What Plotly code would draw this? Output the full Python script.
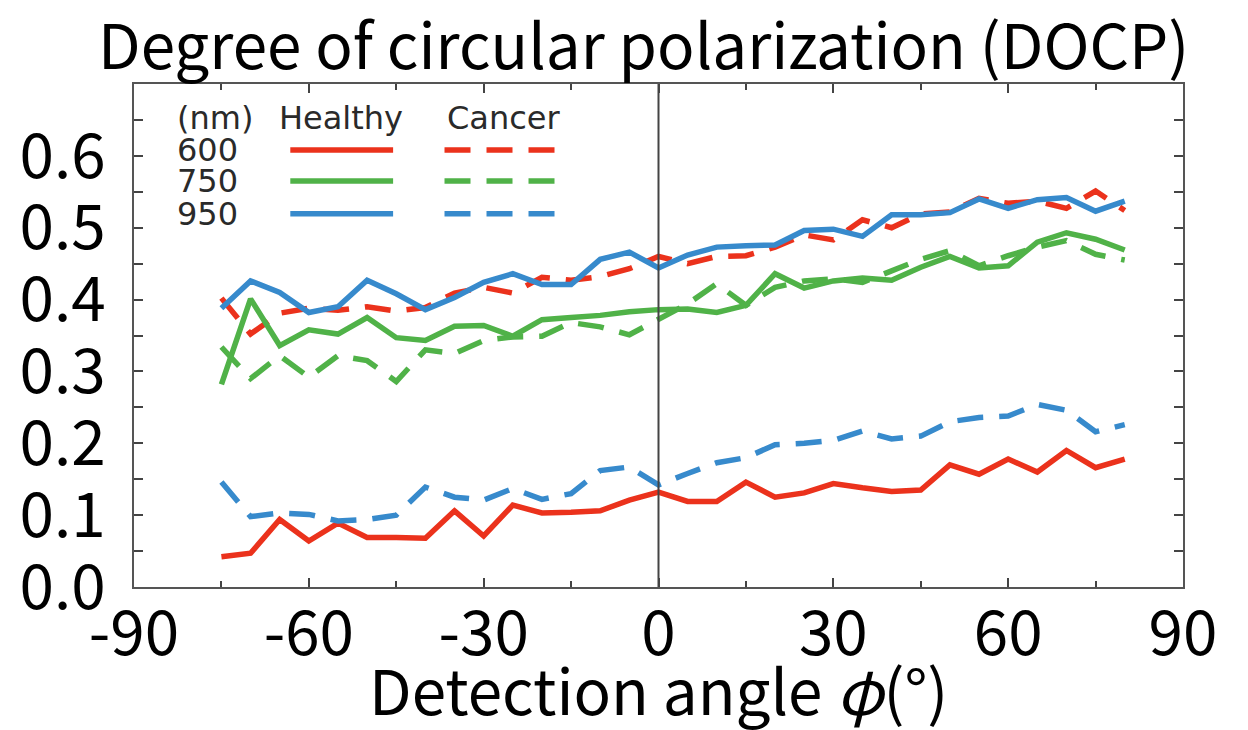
import plotly.graph_objects as go

angles = list(range(-75, 85, 5))

healthy_600 = [0.042, 0.047, 0.094, 0.064, 0.089, 0.069, 0.069, 0.068, 0.106, 0.071, 0.114,
               0.103, 0.104, 0.106, 0.121, 0.132, 0.119, 0.119, 0.146, 0.125, 0.131, 0.144,
               0.138, 0.133, 0.135, 0.170, 0.157, 0.178, 0.160, 0.190, 0.166, 0.178]
cancer_600 = [0.402, 0.352, 0.381, 0.388, 0.385, 0.390, 0.384, 0.389, 0.409, 0.417, 0.409,
              0.431, 0.427, 0.432, 0.443, 0.460, 0.450, 0.460, 0.461, 0.473, 0.490, 0.483,
              0.511, 0.500, 0.519, 0.522, 0.541, 0.534, 0.537, 0.527, 0.551, 0.524]
healthy_750 = [0.282, 0.401, 0.336, 0.358, 0.352, 0.375, 0.347, 0.343, 0.363, 0.364, 0.349,
               0.372, 0.375, 0.378, 0.383, 0.386, 0.387, 0.382, 0.392, 0.436, 0.416, 0.426,
               0.430, 0.427, 0.445, 0.460, 0.444, 0.447, 0.480, 0.493, 0.484, 0.469]
cancer_750 = [0.334, 0.290, 0.322, 0.292, 0.322, 0.315, 0.286, 0.330, 0.325, 0.343, 0.348,
              0.349, 0.368, 0.362, 0.351, 0.373, 0.394, 0.422, 0.392, 0.417, 0.426, 0.429,
              0.424, 0.440, 0.456, 0.468, 0.447, 0.461, 0.473, 0.482, 0.463, 0.455]
healthy_950 = [0.388, 0.426, 0.410, 0.382, 0.390, 0.427, 0.408, 0.386, 0.403, 0.424, 0.436,
               0.421, 0.421, 0.456, 0.466, 0.444, 0.462, 0.473, 0.475, 0.476, 0.496, 0.498,
               0.488, 0.518, 0.518, 0.521, 0.540, 0.527, 0.539, 0.542, 0.523, 0.537]
cancer_950 = [0.146, 0.098, 0.103, 0.101, 0.092, 0.094, 0.100, 0.139, 0.125, 0.121, 0.137,
              0.122, 0.130, 0.162, 0.167, 0.142, 0.158, 0.173, 0.180, 0.198, 0.200, 0.204,
              0.217, 0.206, 0.210, 0.230, 0.236, 0.238, 0.254, 0.246, 0.216, 0.226]

wavelengths = ["600", "750", "950"]
colors = ["rgb(235,50,28)", "rgb(80,178,72)", "rgb(55,138,204)"]
healthy = [healthy_600, healthy_750, healthy_950]
cancer = [cancer_600, cancer_750, cancer_950]

x_ticks = [-90, -60, -30, 0, 30, 60, 90]
x_labels = ["-90", "-60", "-30", "0", "30", "60", "90"]
y_ticks = [0.0, 0.1, 0.2, 0.3, 0.4, 0.5, 0.6]
y_labels = ["0.0", "0.1", "0.2", "0.3", "0.4", "0.5", "0.6"]

DASH = "26px,16px"
BIG = "Noto Sans CJK JP"
LW = 5.5

fig = go.Figure()
for wl, col, h, c in zip(wavelengths, colors, healthy, cancer):
    fig.add_trace(go.Scatter(x=angles, y=h, mode="lines", name=f"{wl} Healthy",
                             line=dict(color=col, width=LW), showlegend=False))
    fig.add_trace(go.Scatter(x=angles, y=c, mode="lines", name=f"{wl} Cancer",
                             line=dict(color=col, width=LW, dash=DASH), showlegend=False))

fig.add_vline(x=0, line=dict(color="#444", width=2))

axis_common = dict(showline=True, linecolor="#555", linewidth=2, mirror="allticks",
                   ticks="inside", ticklen=9, tickwidth=2, tickcolor="#444",
                   showgrid=False, zeroline=False,
                   tickfont=dict(family=BIG, size=62, color="black"))

fig.update_xaxes(range=[-90, 90], tickvals=x_ticks, ticktext=x_labels,
                 minor=dict(dtick=15, tick0=-90, ticks="inside", ticklen=6, tickwidth=2, tickcolor="#444"),
                 ticklabelstandoff=-8, **axis_common)
fig.update_yaxes(range=[0, 0.7], tickvals=y_ticks, ticktext=y_labels,
                 minor=dict(dtick=0.05, tick0=0, ticks="inside", ticklen=9, tickwidth=2, tickcolor="#444"),
                 ticklabelstandoff=14, **axis_common)

# custom legend table
leg_font = dict(family="DejaVu Sans", size=32, color="#2a2a2a")
fig.add_annotation(x=0.039, y=0.932, xref="paper", yref="paper", text="(nm)",
                   showarrow=False, xanchor="left", yanchor="middle", font=leg_font)
fig.add_annotation(x=0.136, y=0.932, xref="paper", yref="paper", text="Healthy",
                   showarrow=False, xanchor="left", yanchor="middle", font=leg_font)
fig.add_annotation(x=0.296, y=0.932, xref="paper", yref="paper", text="Cancer",
                   showarrow=False, xanchor="left", yanchor="middle", font=leg_font)
rows_y = [0.869, 0.807, 0.742]
for wl, col, ry in zip(wavelengths, colors, rows_y):
    fig.add_annotation(x=0.039, y=ry, xref="paper", yref="paper", text=wl,
                       showarrow=False, xanchor="left", yanchor="middle", font=leg_font)
    fig.add_shape(type="line", xref="paper", yref="paper", x0=0.149, x1=0.247, y0=ry, y1=ry,
                  line=dict(color=col, width=LW))
    fig.add_shape(type="line", xref="paper", yref="paper", x0=0.296, x1=0.408, y0=ry, y1=ry,
                  line=dict(color=col, width=LW, dash=DASH))

fig.add_annotation(x=0.486, y=1.0, xref="paper", yref="paper", yshift=42,
                   text="Degree of circular polarization (DOCP)", showarrow=False,
                   xanchor="center", yanchor="middle",
                   font=dict(family=BIG, size=62, color="black"))
fig.add_annotation(x=0.5, y=0.0, xref="paper", yref="paper", yshift=-101,
                   text="Detection angle <i>φ</i>(°)", showarrow=False,
                   xanchor="center", yanchor="middle",
                   font=dict(family=BIG, size=62, color="black"))

fig.update_layout(width=1248, height=730, margin=dict(l=134, r=65, t=84, b=143),
                  paper_bgcolor="white", plot_bgcolor="white")

fig.write_html("out.html")
